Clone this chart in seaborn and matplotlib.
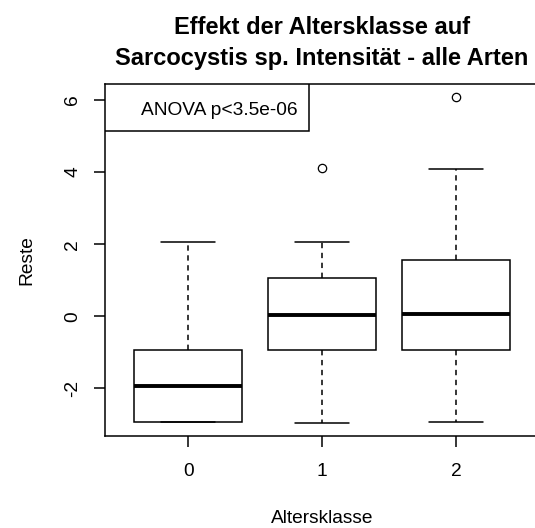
import numpy as np
import pandas as pd
import matplotlib
matplotlib.use("Agg")
import matplotlib.pyplot as plt
from matplotlib.patches import Rectangle
import seaborn as sns

# Residuen pro Altersklasse
klassen = ["0", "1", "2"]
reste_0 = [-2.94, -2.94, -1.92, -0.93, 2.07]
reste_1 = [-2.95, -0.94, -0.94, 0.03, 0.03, 1.06, 1.06, 2.06, 4.10]
reste_2 = [-2.92, -0.94, -0.94, 0.07, 0.07, 1.56, 1.56, 4.08, 6.08]
y_ticks = [-2, 0, 2, 4, 6]
anova_text = "ANOVA p<3.5e-06"

df = pd.DataFrame({
    "Altersklasse": ["0"] * len(reste_0) + ["1"] * len(reste_1) + ["2"] * len(reste_2),
    "Reste": reste_0 + reste_1 + reste_2,
})

sns.set_theme(style="white")
plt.rcParams['font.family'] = ['Liberation Sans', 'DejaVu Sans']
plt.rcParams['axes.edgecolor'] = 'black'
plt.rcParams['axes.linewidth'] = 1.1

lw = 1.1
fig = plt.figure(figsize=(5.35, 5.28), dpi=100)
ax = fig.add_axes([0.1963, 0.1748, 0.8112, 0.6661])

sns.boxplot(data=df, x="Altersklasse", y="Reste", order=klassen, ax=ax,
            color="white", linecolor="black", linewidth=lw, width=0.8, saturation=1,
            whiskerprops=dict(linestyle=(0, (3.5, 3)), color="black", linewidth=lw),
            capprops=dict(color="black", linewidth=lw),
            medianprops=dict(color="black", linewidth=2.8, solid_capstyle="butt"),
            flierprops=dict(marker="o", markersize=6, markerfacecolor="none",
                            markeredgecolor="black", markeredgewidth=0.9))

ax.set_xlim(-0.62, 2.62)
ax.set_ylim(-3.31, 6.44)
ax.set_yticks(y_ticks)
ax.set_yticklabels([str(v) for v in y_ticks])
for s in ax.spines.values():
    s.set_visible(True)
    s.set_color("black")
    s.set_linewidth(lw)

ax.tick_params(axis="both", direction="out", length=8, width=lw, color="black",
               labelsize=13.8, labelcolor="black", left=True, bottom=True)
ax.tick_params(axis="x", pad=12)
ax.tick_params(axis="y", pad=9)
for t in ax.get_yticklabels():
    t.set_rotation(90)
    t.set_verticalalignment("center")

ax.set_xlabel("Altersklasse", fontsize=13.8, color="black", labelpad=21)
ax.set_ylabel("Reste", fontsize=13.8, color="black", labelpad=21)
ax.set_title("Effekt der Altersklasse auf\nSarcocystis sp. Intensität - alle Arten",
             fontsize=17, fontweight="bold", color="black", pad=14, linespacing=1.4)

# Legendenkasten wie in R (legend "topleft")
ax.add_patch(Rectangle((0, 1), 0.470, -0.135, transform=ax.transAxes,
                       facecolor="white", edgecolor="black", linewidth=lw, zorder=5))
ax.text(0.2627, 0.926, anova_text, transform=ax.transAxes, ha="center", va="center",
        fontsize=13.8, color="black", zorder=6)

fig.savefig("out.png", dpi=100)
